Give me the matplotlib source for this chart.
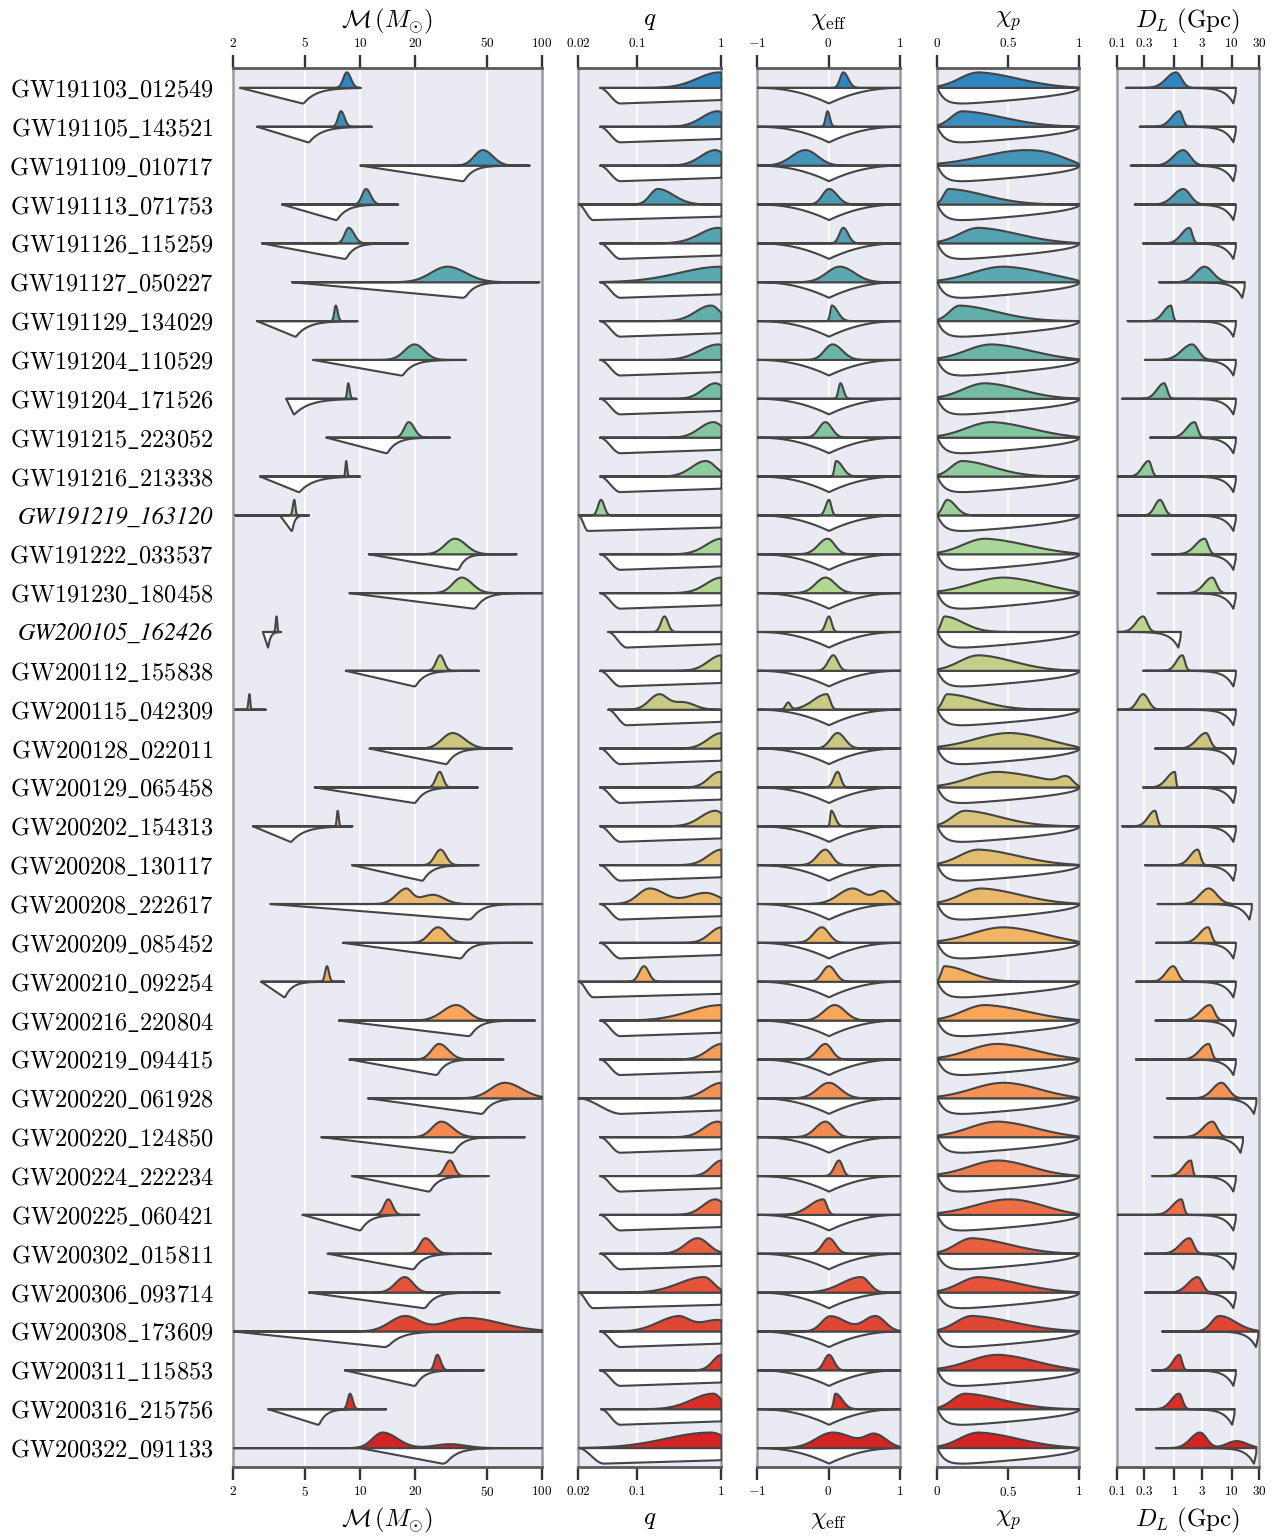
import numpy as np
import matplotlib
matplotlib.use("Agg")
import matplotlib.pyplot as plt
from matplotlib.ticker import FixedLocator, FixedFormatter, NullLocator

plt.rcParams['mathtext.fontset'] = 'cm'
plt.rcParams['font.family'] = ['serif']
plt.rcParams['font.serif'] = ['cmr10', 'DejaVu Serif']
plt.rcParams['axes.unicode_minus'] = False

events = ['GW191103_012549', 'GW191105_143521', 'GW191109_010717', 'GW191113_071753',
          'GW191126_115259', 'GW191127_050227', 'GW191129_134029', 'GW191204_110529',
          'GW191204_171526', 'GW191215_223052', 'GW191216_213338', 'GW191219_163120',
          'GW191222_033537', 'GW191230_180458', 'GW200105_162426', 'GW200112_155838',
          'GW200115_042309', 'GW200128_022011', 'GW200129_065458', 'GW200202_154313',
          'GW200208_130117', 'GW200208_222617', 'GW200209_085452', 'GW200210_092254',
          'GW200216_220804', 'GW200219_094415', 'GW200220_061928', 'GW200220_124850',
          'GW200224_222234', 'GW200225_060421', 'GW200302_015811', 'GW200306_093714',
          'GW200308_173609', 'GW200311_115853', 'GW200316_215756', 'GW200322_091133']
italic_events = ['GW191219_163120', 'GW200105_162426']

# chirp mass posterior: peak, visible lower / upper end (Msun)
mc_peak = [8.4, 7.8, 47, 10.7, 8.6, 30, 7.3, 19.8, 8.55, 18.4, 8.33, 4.32, 33, 36, 3.45, 27.4,
           2.45, 32, 27.2, 7.48, 27.5, 17.7, 26.6, 6.53, 33.6, 27, 62, 27.8, 31, 14.2, 22.7,
           17.5, 17.5, 26.4, 8.75, 13.2]
mc_lo = [7.6, 7.2, 37, 9.6, 7.7, 19, 7.0, 15, 8.3, 16.2, 8.15, 4.15, 25, 28, 3.37, 24.5,
         2.38, 24, 24.5, 7.3, 23.5, 13.5, 21, 6.2, 23, 22, 42, 21.5, 27, 12.6, 19.5,
         13.5, 11.5, 24.5, 8.2, 10]
mc_hi = [9.4, 8.6, 62, 12.2, 10, 50, 7.7, 26, 8.9, 21.5, 8.55, 4.45, 45, 48, 3.52, 30.5,
         2.5, 45, 30, 7.7, 32, 21, 34, 6.9, 46, 35, 100, 38, 35, 16, 28,
         22, 26, 29, 9.4, 20]
mc_bumps = [(21, 25, 17, 34, 0.65), (32, 38, 20, 100, 0.9), (35, 31, 20, 48, 0.25)]
# chirp mass prior: line extent, ramp start, deepest point, end of decay, relative depth
mc_line_lo = [2.18, 2.7, 10, 3.7, 2.87, 4.2, 2.7, 5.5, 3.9, 6.5, 2.8, 2.05, 11.1, 8.7, 2.9,
              8.3, 2.05, 11.2, 5.6, 2.56, 9.0, 3.2, 8.0, 2.84, 7.6, 8.7, 11.0, 6.1, 9.0, 4.8,
              6.6, 5.2, 2.0, 8.2, 3.11, 2.0]
mc_line_hi = [10, 11.5, 85, 16.1, 18.2, 96, 9.6, 38, 9.5, 31, 9.9, 5.2, 72, 100, 3.66, 44.6,
              3.0, 68, 44, 9.0, 44.5, 100, 87.5, 8.1, 91, 61, 100, 80, 50.5, 21, 52, 58,
              100, 47.5, 13.8, 100]
mc_pr_start = [2.18, 2.7, 10, 3.7, 2.87, 4.2, 2.7, 5.5, 3.9, 6.5, 2.8, 3.6, 11.1, 8.7, 2.9,
               8.3, 2.05, 11.2, 5.6, 2.56, 9.0, 3.2, 8.0, 2.84, 7.6, 8.7, 11.0, 6.1, 9.0, 4.8,
               6.6, 5.2, 2.0, 8.2, 3.11, 9.9]
mc_pr_deep = [4.85, 5.2, 37, 7.4, 8.3, 37.5, 4.4, 17, 4.3, 14, 4.6, 4.2, 34.6, 42.7, 3.1, 20,
              2.5, 29.8, 20, 4.15, 22, 40.5, 36, 3.83, 40, 26.4, 47, 32.5, 24, 10, 19.6,
              22.7, 14, 20, 5.9, 29.2]
mc_pr_end = [8.5, 9.0, 55, 11.5, 12, 56, 7.5, 27, 8.5, 21, 8.5, 4.7, 46, 65, 3.45, 30,
             3.0, 45, 30, 7.5, 33, 63, 52, 5.3, 60, 38, 72, 48, 35, 15, 30,
             34, 25, 29, 8.0, 48]
mc_pr_amp = [1] * 16 + [0] + [1] * 19

# mass ratio posterior
q_peak = [0.95, 0.9, 0.85, 0.175, 0.92, 1.0, 0.75, 0.92, 0.85, 0.8, 0.65, 0.037, 1.0, 1.0,
          0.21, 1.0, 0.18, 1.0, 0.95, 0.85, 1.0, 0.14, 1.0, 0.12, 1.0, 1.0, 1.0, 0.9, 1.0,
          0.85, 0.52, 0.62, 0.3, 1.0, 0.8, 0.75]
q_lo = [0.25, 0.35, 0.35, 0.11, 0.3, 0.08, 0.3, 0.3, 0.4, 0.35, 0.28, 0.031, 0.4, 0.4,
        0.17, 0.45, 0.1, 0.45, 0.5, 0.35, 0.45, 0.07, 0.5, 0.09, 0.15, 0.45, 0.4, 0.4, 0.55,
        0.4, 0.25, 0.14, 0.09, 0.6, 0.22, 0.05]
q_hi = [1.5, 1.5, 1.5, 0.45, 1.5, 1.5, 1.3, 1.5, 1.5, 1.5, 1.2, 0.045, 1.5, 1.5,
        0.26, 1.5, 0.3, 1.5, 1.5, 1.5, 1.5, 0.35, 1.5, 0.16, 1.5, 1.5, 1.5, 1.5, 1.5,
        1.5, 1.0, 1.1, 0.6, 1.5, 1.3, 2.0]
q_bumps = [(16, 0.35, 0.18, 0.7, 0.5), (21, 0.65, 0.22, 1.5, 0.72), (32, 0.9, 0.3, 2.0, 0.8)]
q_pr_start = [0.036, 0.036, 0.036, 0.02, 0.036, 0.036, 0.036, 0.036, 0.036, 0.036, 0.036,
              0.02, 0.036, 0.036, 0.045, 0.036, 0.045, 0.036, 0.036, 0.036, 0.036, 0.036,
              0.036, 0.02, 0.036, 0.036, 0.02, 0.036, 0.036, 0.036, 0.036, 0.02, 0.036,
              0.036, 0.037, 0.02]
q_pr_full = [0.063, 0.063, 0.063, 0.03, 0.063, 0.063, 0.063, 0.063, 0.063, 0.063, 0.063,
             0.026, 0.063, 0.063, 0.075, 0.063, 0.075, 0.063, 0.063, 0.063, 0.063, 0.063,
             0.063, 0.03, 0.063, 0.063, 0.065, 0.063, 0.063, 0.063, 0.063, 0.03, 0.063,
             0.063, 0.063, 0.04]

# effective spin posterior
chieff_peak = [0.2, -0.02, -0.33, 0.0, 0.2, 0.15, 0.04, 0.05, 0.16, -0.05, 0.1, 0.0, -0.02,
               -0.05, 0.0, 0.06, -0.03, 0.12, 0.12, 0.03, -0.05, 0.33, -0.1, 0.0, 0.08,
               -0.05, 0.0, -0.05, 0.14, -0.08, 0.0, 0.45, 0.02, 0.0, 0.09, 0.05]
chieff_lo = [0.1, -0.08, -0.75, -0.2, 0.08, -0.25, -0.01, -0.2, 0.1, -0.25, 0.05, -0.1, -0.3,
             -0.35, -0.1, -0.1, -0.45, -0.1, 0.0, 0.0, -0.3, -0.1, -0.35, -0.2, -0.25,
             -0.3, -0.35, -0.35, 0.0, -0.5, -0.2, -0.15, -0.25, -0.15, 0.04, -0.45]
chieff_hi = [0.35, 0.05, 0.05, 0.25, 0.35, 0.6, 0.22, 0.35, 0.25, 0.15, 0.3, 0.07, 0.2,
             0.25, 0.08, 0.2, 0.07, 0.35, 0.22, 0.15, 0.15, 0.7, 0.12, 0.2, 0.4,
             0.15, 0.35, 0.2, 0.25, 0.03, 0.2, 0.7, 0.5, 0.15, 0.3, 0.7]
chieff_bumps = [(16, -0.57, -0.65, -0.5, 0.45), (21, 0.75, 0.5, 1.0, 0.8),
                (32, 0.65, 0.3, 0.95, 1.0), (35, 0.65, 0.35, 1.0, 0.8)]

# precessing spin posterior
chip_peak = [0.3, 0.18, 0.73, 0.08, 0.3, 0.5, 0.16, 0.4, 0.35, 0.4, 0.18, 0.07, 0.35, 0.5,
             0.05, 0.3, 0.07, 0.55, 0.45, 0.2, 0.3, 0.32, 0.5, 0.05, 0.35, 0.45, 0.5, 0.45,
             0.45, 0.55, 0.25, 0.3, 0.25, 0.45, 0.2, 0.3]
chip_lo = [0.0] * 36
chip_hi = [1.0, 0.9, 1.2, 0.7, 1.0, 1.3, 0.8, 1.1, 0.95, 1.1, 0.7, 0.2, 1.1, 1.2, 0.35,
           0.9, 0.6, 1.2, 1.3, 0.8, 1.0, 1.0, 1.2, 0.45, 1.1, 1.1, 1.1, 1.1, 1.0, 1.1,
           0.9, 1.0, 1.0, 1.1, 0.85, 1.0]
chip_bumps = [(18, 0.92, 0.8, 1.0, 0.9)]

# luminosity distance posterior (Gpc)
dl_peak = [1.05, 1.2, 1.4, 1.4, 1.8, 3.3, 0.85, 2.0, 0.65, 2.2, 0.35, 0.55, 3.3, 4.5, 0.28,
           1.35, 0.28, 3.5, 1.0, 0.45, 2.5, 3.9, 3.8, 0.94, 4.1, 3.9, 6.5, 4.5, 1.9, 1.3,
           1.8, 2.5, 6.0, 1.2, 1.19, 2.75]
dl_lo = [0.45, 0.6, 0.6, 0.6, 0.9, 1.5, 0.45, 0.8, 0.35, 1.1, 0.2, 0.35, 1.5, 2.2, 0.15,
         0.8, 0.17, 1.6, 0.5, 0.25, 1.3, 1.8, 1.8, 0.5, 1.8, 1.8, 3.0, 2.0, 1.0, 0.6,
         0.8, 1.1, 3.0, 0.7, 0.6, 1.2]
dl_hi = [1.7, 1.6, 2.6, 2.6, 2.3, 7.0, 1.0, 3.5, 0.85, 2.9, 0.45, 0.8, 4.5, 6.5, 0.4,
         1.7, 0.45, 5.0, 1.1, 0.55, 3.2, 8.0, 5.0, 1.4, 6.0, 5.0, 12, 7.0, 2.2, 1.6,
         2.6, 3.8, 25, 1.5, 1.6, 5.0]
dl_bumps = [(35, 12, 5, 30, 0.45)]
dl_line_lo = [0.14, 0.245, 0.17, 0.2, 0.28, 0.53, 0.15, 0.3, 0.12, 0.37, 0.1, 0.1, 0.4, 0.5,
              0.1, 0.28, 0.1, 0.45, 0.28, 0.12, 0.3, 0.5, 0.47, 0.21, 0.46, 0.21, 0.73,
              0.44, 0.4, 0.1, 0.3, 0.3, 0.6, 0.4, 0.21, 0.47]
dl_pr_max = [10.5, 10.5, 10.5, 10.5, 10.5, 15, 10.5, 10.5, 10.5, 10.5, 10.5, 10.5, 10.5,
             10.5, 1.15, 10.5, 10.5, 10.5, 10.5, 10.5, 10.5, 20, 10.5, 10.5, 10.5, 10.5,
             24, 14, 10.5, 10.5, 10.5, 10.5, 26, 10.5, 10, 24]

row_colors = ['#2e86c0', '#3a8dbc', '#4394b8', '#4c9bb5', '#55a2b2', '#5aa8b0', '#62aeaa',
              '#6bb5a7', '#74bca3', '#82c6a0', '#90cd9c', '#9dd39a', '#a8d898', '#b2d894',
              '#bcd48d', '#c1cf88', '#c8cb83', '#cbc67f', '#d3c47c', '#d9c27a', '#e1bd72',
              '#e9b96b', '#efb466', '#f6ae60', '#fba65b', '#f99c58', '#f59255', '#f28a51',
              '#ef7c4b', '#ec6f45', '#e76040', '#e3543a', '#df4735', '#dc3b2f', '#d82f27',
              '#d52222']

H = 0.40
OUTLINE = '#454545'
N = 600


def asym(t, c, lo, hi):
    sl = max((c - lo) / 2.2, 1e-3)
    sr = max((hi - c) / 2.2, 1e-3)
    return np.where(t < c, np.exp(-0.5 * ((t - c) / sl) ** 2), np.exp(-0.5 * ((t - c) / sr) ** 2))


def posterior(t, f, i, peak, lo, hi, bumps):
    d = asym(t, f(peak[i]), f(lo[i]), f(hi[i]))
    for (j, p, l, h, w) in bumps:
        if j == i:
            d = d + w * asym(t, f(p), f(l), f(h))
    return d


def draw(ax, x, y0, post, prior, color):
    if prior.max() > 0:
        prior = prior / prior.max() * H
    post = post / post.max() * H
    ax.fill_between(x, y0 - prior, y0, facecolor='white', edgecolor=OUTLINE, lw=1.5, zorder=3)
    ax.fill_between(x, y0, y0 + post, facecolor=color, edgecolor=OUTLINE, lw=1.5, zorder=4)


fig = plt.figure(figsize=(12.84, 15.36), dpi=100)
W, Ht = 1284.0, 1536.0
lefts = [233, 578, 757, 937, 1117]
rights = [542, 721, 900, 1079, 1259]
axes = [fig.add_axes([l / W, 1 - 1467 / Ht, (r - l) / W, (1467 - 68) / Ht])
        for l, r in zip(lefts, rights)]

log10 = np.log10
ident = lambda v: np.asarray(v, dtype=float)

for i in range(len(events)):
    y0 = -i
    c = row_colors[i]

    # chirp mass
    t = np.linspace(log10(mc_line_lo[i]), log10(mc_line_hi[i]), N)
    post = posterior(t, log10, i, mc_peak, mc_lo, mc_hi, mc_bumps)
    ts, td, te = log10(mc_pr_start[i]), log10(mc_pr_deep[i]), log10(mc_pr_end[i])
    pr = np.zeros_like(t)
    m1 = (t >= ts) & (t <= td)
    pr[m1] = (t[m1] - ts) / max(td - ts, 1e-6)
    m2 = t > td
    pr[m2] = np.exp(-3.5 * (t[m2] - td) / (te - td))
    pr = np.convolve(pr, np.ones(13) / 13, mode='same') * mc_pr_amp[i]
    draw(axes[0], 10 ** t, y0, post, pr, c)

    # mass ratio
    t = np.linspace(log10(q_pr_start[i]), 0, N)
    post = posterior(t, log10, i, q_peak, q_lo, q_hi, q_bumps)
    ts, tf = log10(q_pr_start[i]), log10(q_pr_full[i])
    s = np.clip((t - ts) / (tf - ts), 0, 1)
    pr = s * s * (3 - 2 * s) * (1 - 0.22 * np.clip((t - tf) / (0 - tf), 0, 1))
    draw(axes[1], 10 ** t, y0, post, pr, c)

    # effective spin
    t = np.linspace(-1, 1, N)
    post = posterior(t, ident, i, chieff_peak, chieff_lo, chieff_hi, chieff_bumps)
    pr = (1 - np.abs(t)) ** 2.2
    draw(axes[2], t, y0, post, pr, c)

    # precessing spin
    t = np.linspace(0, 1, N)
    post = posterior(t, ident, i, chip_peak, chip_lo, chip_hi, chip_bumps) * (1 - t) ** 0.35
    pr = (1 - np.exp(-t / 0.05)) * np.sqrt(1 - t)
    draw(axes[3], t, y0, post, pr, c)

    # luminosity distance
    dmax = dl_pr_max[i]
    t = np.linspace(log10(dl_line_lo[i]), log10(1.1 * dmax), N)
    post = posterior(t, log10, i, dl_peak, dl_lo, dl_hi, dl_bumps)
    d = 10 ** t
    pr = np.where(d <= dmax, (d / dmax) ** 3, 1 - 0.7 * (d - dmax) / (0.1 * dmax))
    draw(axes[4], d, y0, post, pr, c)

xlims = [(2, 100), (0.02, 1), (-1, 1), (0, 1), (0.1, 30)]
scales = ['log', 'log', 'linear', 'linear', 'log']
tick_vals = [[2, 5, 10, 20, 50, 100], [0.02, 0.1, 1], [-1, 0, 1], [0, 0.5, 1],
             [0.1, 0.3, 1, 3, 10, 30]]
tick_text = [['2', '5', '10', '20', '50', '100'], ['0.02', '0.1', '1'], ['-1', '0', '1'],
             ['0', '0.5', '1'], ['0.1', '0.3', '1', '3', '10', '30']]
xlabels = [r'$\mathcal{M}\,(M_{\odot})$', r'$q$', r'$\chi_{\rm eff}$', r'$\chi_p$',
           r'$D_L\ ({\rm Gpc})$']

for k, ax in enumerate(axes):
    ax.set_facecolor('#EAEAF2')
    ax.set_xscale(scales[k])
    ax.set_xlim(*xlims[k])
    ax.set_ylim(-len(events) + 0.5, 0.5)
    ax.xaxis.set_major_locator(FixedLocator(tick_vals[k]))
    ax.xaxis.set_major_formatter(FixedFormatter(['$%s$' % s for s in tick_text[k]]))
    ax.xaxis.set_minor_locator(NullLocator())
    ax.tick_params(axis='x', which='both', top=True, bottom=True, labeltop=True,
                   labelbottom=True, direction='out', length=9.5, width=1.7,
                   color='#333333', labelsize=9.5, pad=3.5)
    ax.set_axisbelow(True)
    ax.grid(True, axis='x', color='white', lw=1.3)
    for side in ['left', 'right']:
        ax.spines[side].set_color('#9a9a9a')
        ax.spines[side].set_linewidth(1.8)
    for side in ['top', 'bottom']:
        ax.spines[side].set_color('#5a5a5a')
        ax.spines[side].set_linewidth(2.0)
    ax.text(0.5, 1 + 47 / 1399, xlabels[k], transform=ax.transAxes, ha='center',
            va='center', fontsize=18)
    ax.text(0.5, -53 / 1399, xlabels[k], transform=ax.transAxes, ha='center',
            va='center', fontsize=18)
    ax.set_yticks([])

# event names on the left; NSBH candidates in italic
ax0 = axes[0]
ax0.set_yticks([-i for i in range(len(events))])
ax0.set_yticklabels([e if e in italic_events else r'$\mathrm{' + e.replace('_', r'\_') + '}$'
                     for e in events], fontsize=17.5)
ax0.tick_params(axis='y', length=0, pad=14)
for lab, e in zip(ax0.get_yticklabels(), events):
    if e in italic_events:
        lab.set_fontfamily('STIXGeneral')
        lab.set_fontstyle('italic')
        lab.set_fontsize(17.5)

fig.savefig('out.png', dpi=100)
